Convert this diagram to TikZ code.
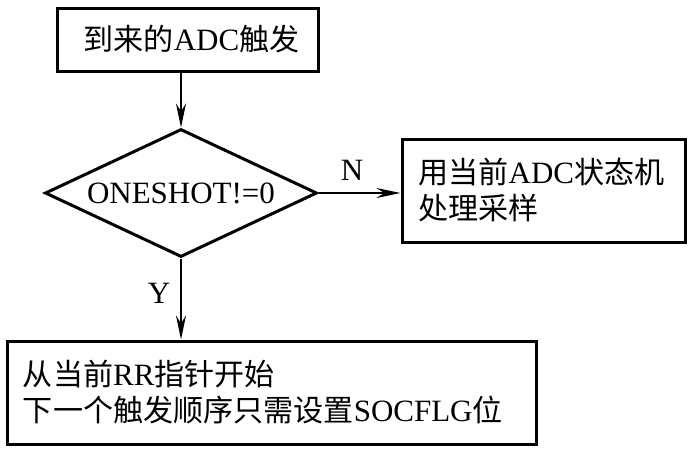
\documentclass[tikz,border=0pt]{standalone}
\usepackage{fontspec}
\setmainfont{Liberation Serif}
\newfontfamily\cjkfont{Noto Sans CJK SC}[Scale=0.97]
\newcommand{\zh}[1]{{\cjkfont #1}}
\usetikzlibrary{shapes.geometric,arrows.meta}
\begin{document}
\begin{tikzpicture}[x=1pt,y=-1pt,
  every node/.style={font=\fontsize{31}{36}\selectfont},
  boxnode/.style={draw,line width=3pt,rectangle,inner sep=0pt},
  decide/.style={draw,line width=3pt,diamond,aspect=2.125,inner sep=0pt,minimum width=272pt,minimum height=128pt},
  arr/.style={line width=2pt,-{Stealth[length=24pt,width=10pt]}},
  lbl/.style={inner sep=0pt}]
\useasboundingbox (0,0) rectangle (691,456);
\node[boxnode,minimum width=261pt,minimum height=63pt] (top) at (187.5,39.5) {\hspace*{8pt}\zh{到来的}ADC\zh{触发}};
\node[decide] (d) at (181,193) {ONESHOT!=0};
\node[boxnode,minimum width=283pt,minimum height=103pt,text width=250pt,align=left] (r) at (543.5,190.5)
  {\zh{用当前}ADC\zh{状态机}\\\zh{处理采样}};
\node[boxnode,minimum width=529pt,minimum height=103pt,text width=497pt,align=left] (b) at (271.5,392.5)
  {\zh{从当前}RR\zh{指针开始}\\\zh{下一个触发顺序只需设置}SOCFLG\zh{位}};
\coordinate (ta) at (top.south -| d.north);
\coordinate (ra) at (d.east -| r.west);
\coordinate (ba) at (b.north -| d.south);
\draw[arr] (ta) -- (d.north);
\draw[arr] (d.east) -- (ra);
\draw[arr] (d.south) -- (ba);
\node[lbl] (n) at (352,170) {N};
\node[lbl] (y) at (159,293) {Y};
\end{tikzpicture}
\end{document}
